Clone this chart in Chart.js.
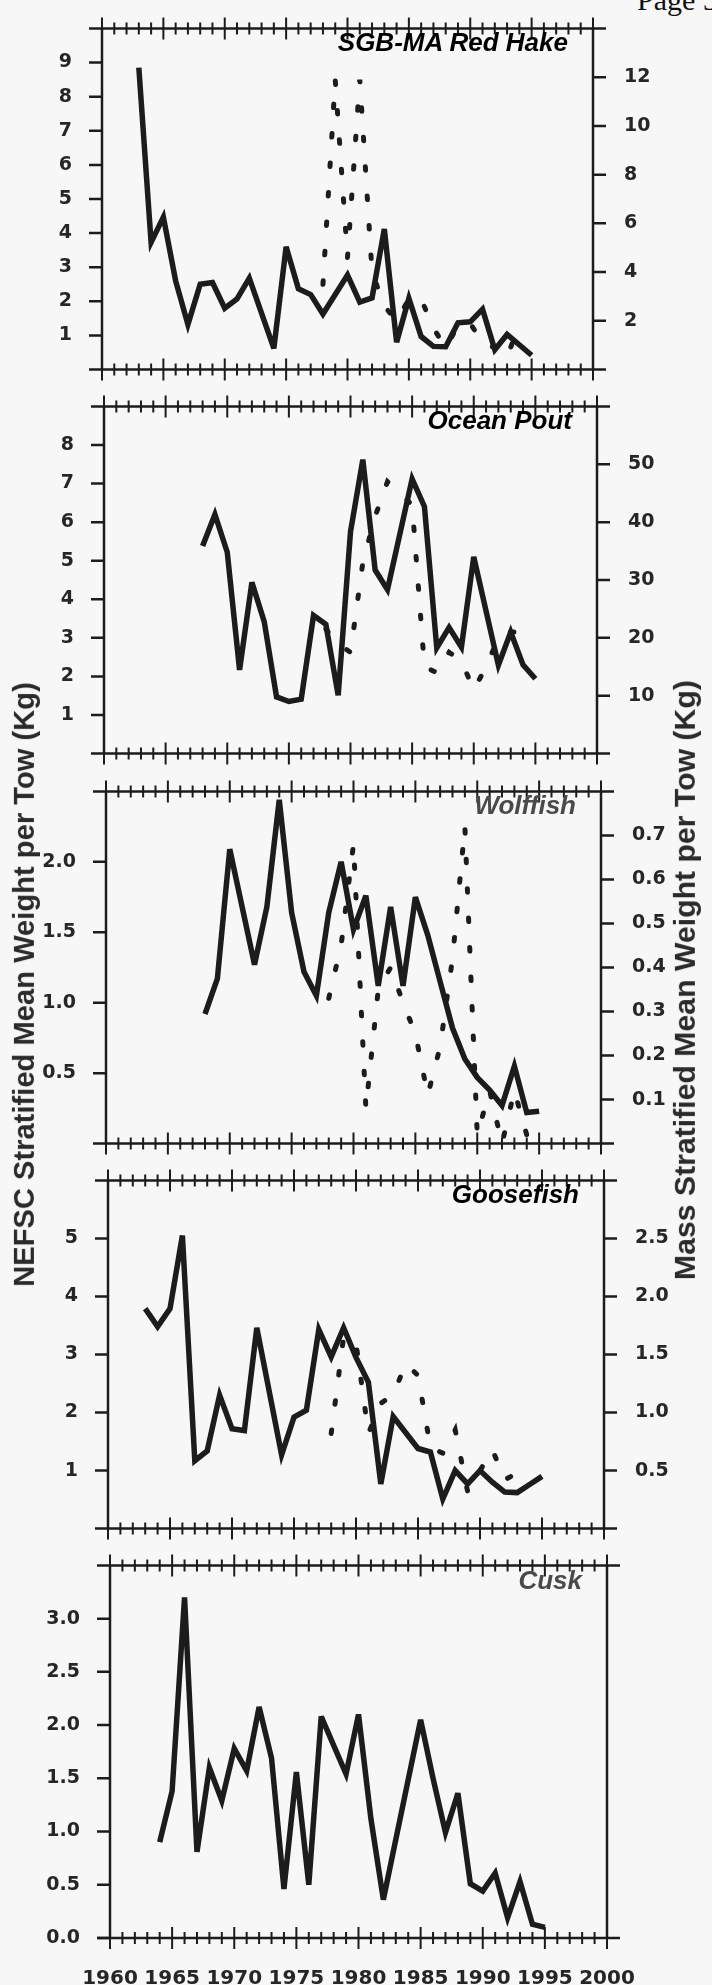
<!DOCTYPE html>
<html>
<head>
<meta charset="utf-8">
<title>Stratified mean weight per tow</title>
<script src="https://cdn.jsdelivr.net/npm/chart.js@4.4.1/dist/chart.umd.min.js"></script>
<style>
  html, body { margin: 0; padding: 0; background: #f7f7f7; }
  #page { position: relative; width: 712px; height: 1985px; overflow: hidden; font-family: "Liberation Sans", Arial, sans-serif; }
  .panel { position: absolute; left: 0; }
  .ptitle { position: absolute; font-style: italic; font-weight: bold; font-size: 26px; line-height: 26px; white-space: nowrap; text-align: right; }
  .ytitle { position: absolute; font-weight: bold; color: #2a2a2a; white-space: nowrap; text-align: center; }
  #pageNo { position: absolute; left: 637px; top: -15px; font-family: "Liberation Serif", serif; font-size: 30px; line-height: 30px; color: #111; white-space: nowrap; }
</style>
</head>
<body>
<div id="page">
  <div id="pageNo">Page 5</div>
  <canvas id="p1" class="panel"></canvas>
  <canvas id="p2" class="panel"></canvas>
  <canvas id="p3" class="panel"></canvas>
  <canvas id="p4" class="panel"></canvas>
  <canvas id="p5" class="panel"></canvas>
  <div id="t1" class="ptitle" style="color:#000">SGB-MA Red Hake</div>
  <div id="t2" class="ptitle" style="color:#000">Ocean Pout</div>
  <div id="t3" class="ptitle" style="color:#4a4a4a">Wolffish</div>
  <div id="t4" class="ptitle" style="color:#000">Goosefish</div>
  <div id="t5" class="ptitle" style="color:#4a4a4a">Cusk</div>
  <div id="leftTitle" class="ytitle">NEFSC Stratified Mean Weight per Tow (Kg)</div>
  <div id="rightTitle" class="ytitle">Mass Stratified Mean Weight per Tow (Kg)</div>
</div>
<script>
// ---- data ----
const yearTicks = [1960, 1965, 1970, 1975, 1980, 1985, 1990, 1995, 2000];

// SGB-MA Red Hake
const hakeYears = [1963, 1964, 1965, 1966, 1967, 1968, 1969, 1970, 1971, 1972, 1974, 1975, 1976, 1977, 1978,
                   1980, 1981, 1982, 1983, 1984, 1985, 1986, 1987, 1988, 1989, 1990, 1991, 1992, 1993, 1995];
const hakeNefsc = [8.85, 3.73, 4.47, 2.6, 1.32, 2.5, 2.55, 1.8, 2.07, 2.68, 0.62, 3.6, 2.37, 2.2, 1.63,
                   2.77, 1.98, 2.1, 4.12, 0.8, 2.09, 0.97, 0.68, 0.67, 1.37, 1.4, 1.77, 0.58, 1.03, 0.42];
const hakeMassYears = [1978, 1979, 1980, 1981, 1982, 1983, 1984, 1985, 1986, 1987, 1988, 1989, 1990, 1991, 1992, 1993, 1994];
const hakeMass = [3.5, 11.9, 4.6, 11.9, 4.0, 2.6, 2.0, 2.9, 2.9, 1.7, 0.9, 1.8, 1.9, 1.1, 0.9, 0.5, 1.9];
const hakeLeftTicks = [1, 2, 3, 4, 5, 6, 7, 8, 9];
const hakeRightTicks = [2, 4, 6, 8, 10, 12];

// Ocean Pout
const poutYears = [1968, 1969, 1970, 1971, 1972, 1973, 1974, 1975, 1976, 1977, 1978, 1979, 1980, 1981, 1982, 1983,
                   1985, 1986, 1987, 1988, 1989, 1990, 1992, 1993, 1994, 1995];
const poutNefsc = [5.38, 6.2, 5.22, 2.17, 4.44, 3.42, 1.47, 1.35, 1.41, 3.58, 3.35, 1.51, 5.75, 7.62, 4.76, 4.25,
                   7.12, 6.4, 2.74, 3.27, 2.76, 5.1, 2.29, 3.15, 2.3, 1.94];
const poutMassYears = [1978, 1979, 1980, 1981, 1982, 1983, 1984, 1985, 1986, 1987, 1988, 1989, 1990, 1991, 1992, 1993, 1994];
const poutMass = [21.5, 19, 17.5, 33, 41, 47, 45, 43, 15, 14, 17.5, 16, 11, 15, 20, 21, 21];
const poutLeftTicks = [1, 2, 3, 4, 5, 6, 7, 8];
const poutRightTicks = [10, 20, 30, 40, 50];

// Wolffish
const wolfYears = [1968, 1969, 1970, 1972, 1973, 1974, 1975, 1976, 1977, 1978, 1979, 1980, 1981, 1982, 1983, 1984,
                   1985, 1986, 1987, 1988, 1989, 1990, 1991, 1992, 1993, 1994, 1995];
const wolfNefsc = [0.92, 1.17, 2.09, 1.27, 1.68, 2.44, 1.64, 1.22, 1.05, 1.64, 2.0, 1.52, 1.76, 1.12, 1.68, 1.12,
                   1.75, 1.48, 1.15, 0.82, 0.6, 0.47, 0.38, 0.27, 0.55, 0.22, 0.23];
const wolfMassYears = [1978, 1979, 1980, 1981, 1982, 1983, 1984, 1985, 1986, 1987, 1988, 1989, 1990, 1991, 1992, 1993, 1994];
const wolfMass = [0.33, 0.45, 0.68, 0.08, 0.35, 0.40, 0.32, 0.25, 0.11, 0.22, 0.42, 0.72, 0.02, 0.12, 0.0, 0.12, 0.02];
const wolfLeftTicks = [0.5, 1.0, 1.5, 2.0];
const wolfRightTicks = [0.1, 0.2, 0.3, 0.4, 0.5, 0.6, 0.7];

// Goosefish
const gooseYears = [1963, 1964, 1965, 1966, 1967, 1968, 1969, 1970, 1971, 1972, 1974, 1975, 1976, 1977, 1978, 1979,
                    1980, 1981, 1982, 1983, 1985, 1986, 1987, 1988, 1989, 1990, 1991, 1992, 1993, 1994, 1995];
const gooseNefsc = [3.79, 3.48, 3.79, 5.05, 1.17, 1.34, 2.3, 1.72, 1.69, 3.46, 1.27, 1.92, 2.04, 3.43, 2.96, 3.46,
                    2.95, 2.52, 0.77, 1.93, 1.38, 1.32, 0.51, 1.0, 0.77, 1.0, 0.8, 0.63, 0.62, 0.76, 0.9];
const gooseMassYears = [1978, 1979, 1980, 1981, 1982, 1983, 1984, 1985, 1986, 1987, 1988, 1989, 1990, 1991, 1992, 1993];
const gooseMass = [0.82, 1.65, 1.6, 0.82, 1.08, 1.15, 1.42, 1.32, 0.7, 0.65, 0.85, 0.32, 0.5, 0.68, 0.42, 0.48];
const gooseLeftTicks = [1, 2, 3, 4, 5];
const gooseRightTicks = [0.5, 1.0, 1.5, 2.0, 2.5];

// Cusk
const cuskYears = [1964, 1965, 1966, 1967, 1968, 1969, 1970, 1971, 1972, 1973, 1974, 1975, 1976, 1977,
                   1979, 1980, 1981, 1982, 1985, 1986, 1987, 1988, 1989, 1990, 1991, 1992, 1993, 1994, 1995];
const cuskNefsc = [0.9, 1.38, 3.2, 0.81, 1.6, 1.29, 1.78, 1.57, 2.17, 1.69, 0.46, 1.56, 0.5, 2.08,
                   1.54, 2.1, 1.12, 0.36, 2.05, 1.5, 0.99, 1.36, 0.51, 0.44, 0.61, 0.19, 0.53, 0.13, 0.1];
const cuskLeftTicks = [0.0, 0.5, 1.0, 1.5, 2.0, 2.5, 3.0];

// ---- look ----
const INK = '#1c1c1c';
const NUM_COLOR = '#262626';
const NUM_FONT = { family: '"DejaVu Sans", sans-serif', size: 19, weight: 'bold' };
const YEAR_FONT = { family: '"DejaVu Sans", sans-serif', size: 20, weight: 'bold' };
const AXIS_W = 64;
const PAD = 16;
const TICK_OUT = 13;

function pts(xs, ys) {
  return xs.map((x, i) => ({ x, y: ys[i] }));
}

function fixedTicks(list) {
  return axis => { axis.ticks = list.map(v => ({ value: v })); };
}

const frameTicks = {
  id: 'frameTicks',
  beforeDatasetsDraw(chart) {
    chart.ctx.miterLimit = 4;
  },
  afterDraw(chart) {
    const { ctx, chartArea: a, scales } = chart;
    ctx.save();
    ctx.strokeStyle = INK;
    ctx.lineCap = 'butt';

    ctx.lineWidth = 2.5;
    ctx.beginPath();
    [a.top, a.bottom].forEach(yy => {
      ctx.moveTo(a.left - TICK_OUT, yy);
      ctx.lineTo(a.right + TICK_OUT, yy);
    });
    ctx.moveTo(a.left, a.top);
    ctx.lineTo(a.left, a.bottom);
    ctx.moveTo(a.right, a.top);
    ctx.lineTo(a.right, a.bottom);
    ctx.stroke();

    // yearly cross ticks on top and bottom edges
    ctx.lineWidth = 2;
    ctx.beginPath();
    for (let yr = 1960; yr <= 2000; yr++) {
      const px = scales.x.getPixelForValue(yr);
      const h = yr % 5 === 0 ? 11 : 6;
      [a.top, a.bottom].forEach(yy => {
        ctx.moveTo(px, yy - h);
        ctx.lineTo(px, yy + h);
      });
    }
    ctx.stroke();

    // outward ticks at labelled values
    ctx.lineWidth = 2.5;
    ctx.beginPath();
    ['y', 'y2'].forEach(id => {
      const s = scales[id];
      if (!s) return;
      const edge = id === 'y' ? a.left : a.right;
      const dir = id === 'y' ? -1 : 1;
      s.ticks.forEach(t => {
        const py = s.getPixelForValue(t.value);
        ctx.moveTo(edge, py);
        ctx.lineTo(edge + dir * TICK_OUT, py);
      });
    });
    ctx.stroke();
    ctx.restore();
  }
};

function yScale(position, max, ticks, dec) {
  return {
    position,
    min: 0,
    max,
    afterBuildTicks: fixedTicks(ticks),
    afterFit: s => { s.width = AXIS_W; },
    grid: { display: false },
    border: { display: false },
    ticks: {
      autoSkip: false,
      padding: position === 'left' ? 22 : 23,
      color: NUM_COLOR,
      font: NUM_FONT,
      callback: v => Number(v).toFixed(dec)
    }
  };
}

function makePanel(id, box, spec) {
  const canvas = document.getElementById(id);
  const extra = spec.showYears ? 52 : 0;
  canvas.width = 712;
  canvas.height = box.bottom - box.top + PAD * 2 + extra;
  canvas.style.top = (box.top - PAD) + 'px';

  const scales = {
    x: {
      type: 'linear',
      min: 1960,
      max: 2000,
      display: !!spec.showYears,
      afterBuildTicks: fixedTicks(yearTicks),
      afterFit: s => { s.height = extra; },
      grid: { display: false },
      border: { display: false },
      ticks: {
        autoSkip: false, maxRotation: 0, minRotation: 0, padding: 21,
        color: NUM_COLOR, font: YEAR_FONT,
        callback: v => String(v)
      }
    },
    y: yScale('left', spec.leftMax, spec.leftTicks, spec.leftDec)
  };
  if (spec.rightTicks) scales.y2 = yScale('right', spec.rightMax, spec.rightTicks, spec.rightDec);

  const datasets = [{
    data: pts(spec.years, spec.nefsc),
    yAxisID: 'y',
    borderColor: INK,
    borderWidth: 5.5,
    borderJoinStyle: 'miter',
    pointRadius: 0,
    tension: 0
  }];
  if (spec.massYears) {
    datasets.push({
      data: pts(spec.massYears, spec.mass),
      yAxisID: 'y2',
      borderColor: INK,
      borderWidth: 5,
      borderDash: [3.5, 26],
      borderCapStyle: 'round',
      pointRadius: 0,
      tension: 0
    });
  }

  new Chart(canvas, {
    type: 'line',
    data: { datasets },
    options: {
      responsive: false,
      animation: false,
      devicePixelRatio: 1,
      layout: {
        padding: {
          top: PAD,
          bottom: PAD,
          left: box.left - AXIS_W,
          right: 712 - box.right - (spec.rightTicks ? AXIS_W : 0)
        }
      },
      plugins: { legend: { display: false }, tooltip: { enabled: false } },
      scales
    },
    plugins: [frameTicks]
  });

  const title = document.getElementById(spec.titleId);
  title.style.right = (712 - box.right + 25) + 'px';
  title.style.top = (box.top + 19) + 'px';
}

function fitTitle(id, length, cx, cy) {
  const el = document.getElementById(id);
  const c = document.createElement('canvas').getContext('2d');
  c.font = 'bold 100px "Liberation Sans"';
  const size = 100 * length / c.measureText(el.textContent).width;
  el.style.fontSize = size + 'px';
  el.style.lineHeight = size + 'px';
  el.style.width = length + 'px';
  el.style.left = (cx - length / 2) + 'px';
  el.style.top = (cy - size / 2) + 'px';
  el.style.transform = 'rotate(-90deg)';
}

const boxes = [
  { top: 10,   bottom: 388,  left: 102, right: 593 },
  { top: 388,  bottom: 772,  left: 104, right: 597 },
  { top: 773,  bottom: 1162, left: 106, right: 601 },
  { top: 1162, bottom: 1547, left: 108, right: 604 },
  { top: 1548, bottom: 1938, left: 110, right: 607 }
];

makePanel('p1', boxes[0], {
  titleId: 't1', years: hakeYears, nefsc: hakeNefsc, massYears: hakeMassYears, mass: hakeMass,
  leftMax: 10, leftTicks: hakeLeftTicks, leftDec: 0, rightMax: 14, rightTicks: hakeRightTicks, rightDec: 0
});
makePanel('p2', boxes[1], {
  titleId: 't2', years: poutYears, nefsc: poutNefsc, massYears: poutMassYears, mass: poutMass,
  leftMax: 9, leftTicks: poutLeftTicks, leftDec: 0, rightMax: 60, rightTicks: poutRightTicks, rightDec: 0
});
makePanel('p3', boxes[2], {
  titleId: 't3', years: wolfYears, nefsc: wolfNefsc, massYears: wolfMassYears, mass: wolfMass,
  leftMax: 2.5, leftTicks: wolfLeftTicks, leftDec: 1, rightMax: 0.8, rightTicks: wolfRightTicks, rightDec: 1
});
makePanel('p4', boxes[3], {
  titleId: 't4', years: gooseYears, nefsc: gooseNefsc, massYears: gooseMassYears, mass: gooseMass,
  leftMax: 6, leftTicks: gooseLeftTicks, leftDec: 0, rightMax: 3, rightTicks: gooseRightTicks, rightDec: 1
});
makePanel('p5', boxes[4], {
  titleId: 't5', years: cuskYears, nefsc: cuskNefsc,
  leftMax: 3.5, leftTicks: cuskLeftTicks, leftDec: 1, showYears: true
});

fitTitle('leftTitle', 605, 24, 985);
fitTitle('rightTitle', 600, 685, 980);
</script>
</body>
</html>
